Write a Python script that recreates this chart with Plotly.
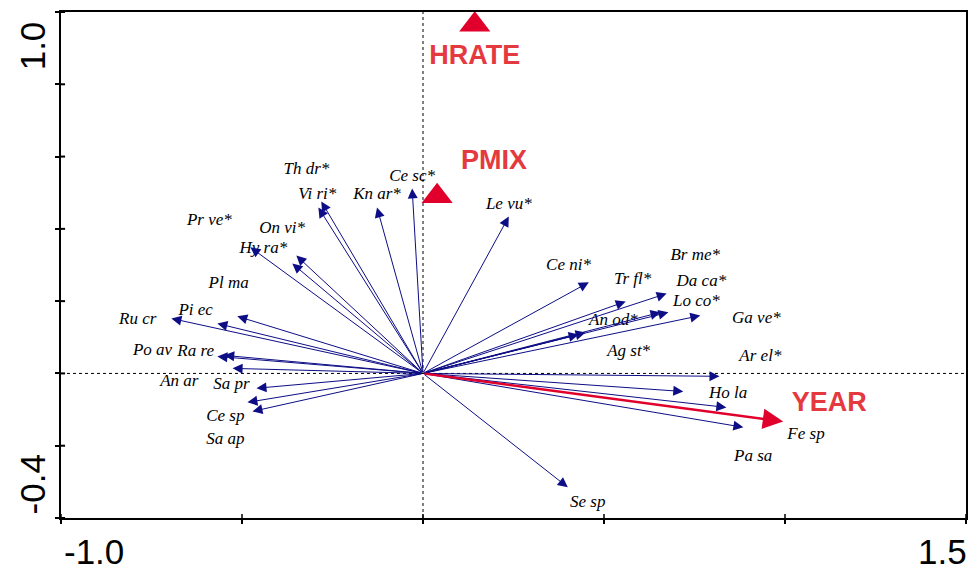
import plotly.graph_objects as go

# ---- data ----
species = ["Ru cr", "Pi ec", "Pl ma", "Po av", "Ra re", "An ar", "Sa pr", "Ce sp", "Sa ap",
           "Pr ve*", "Hy ra*", "On vi*", "Th dr*", "Vi ri*", "Kn ar*", "Ce sc*", "Le vu*",
           "Ce ni*", "Tr fl*", "Br me*", "Da ca*", "Lo co*", "Ga ve*", "An od*", "Ag st*",
           "Ar el*", "Ho la", "Pa sa", "Fe sp", "Se sp"]
# species arrow tips (axis 1, axis 2)
arrow_x = [-0.695, -0.568, -0.513, -0.568, -0.549, -0.526, -0.460, -0.485, -0.471,
           -0.477, -0.361, -0.350, -0.281, -0.289, -0.127, -0.030, 0.237,
           0.458, 0.560, 0.673, 0.678, 0.656, 0.766, 0.449, 0.430,
           0.819, 0.719, 0.838, 0.885, 0.400]
arrow_y = [0.152, 0.138, 0.158, 0.047, 0.050, 0.014, -0.041, -0.080, -0.105,
           0.349, 0.304, 0.326, 0.476, 0.459, 0.459, 0.512, 0.434,
           0.252, 0.199, 0.221, 0.169, 0.169, 0.160, 0.113, 0.108,
           -0.008, -0.050, -0.094, -0.149, -0.315]
# species label locations
label_x = [-0.788, -0.628, -0.537, -0.747, -0.628, -0.673, -0.529, -0.546, -0.546,
           -0.590, -0.441, -0.389, -0.322, -0.292, -0.127, -0.030, 0.237,
           0.402, 0.579, 0.752, 0.769, 0.755, 0.921, 0.526, 0.568,
           0.932, 0.843, 0.912, 1.058, 0.455]
label_y = [0.149, 0.174, 0.249, 0.064, 0.061, -0.022, -0.030, -0.119, -0.183,
           0.423, 0.346, 0.401, 0.564, 0.495, 0.495, 0.545, 0.467,
           0.299, 0.260, 0.326, 0.253, 0.198, 0.152, 0.147, 0.061,
           0.047, -0.055, -0.230, -0.169, -0.357]

# environmental variables
nominal_names = ["HRATE", "PMIX"]
nominal_x = [0.143, 0.039]
nominal_y = [0.965, 0.490]
nominal_label_x = [0.143, 0.196]
nominal_label_y = [0.874, 0.584]

year_x, year_y = 0.995, -0.133
year_label_x, year_label_y = 1.122, -0.086

x_range = [-1.0, 1.5]
y_range = [-0.4, 1.0]
x_ticks = [-1.0, -0.5, 0.0, 0.5, 1.0, 1.5]
y_ticks = [-0.4, -0.2, 0.0, 0.2, 0.4, 0.6, 0.8, 1.0]

NAVY = "#0d0d86"
RED_MARK = "#e0002b"
RED_TEXT = "#e4393e"

fig = go.Figure()

# zero lines (dotted)
fig.add_shape(type="line", x0=x_range[0], x1=x_range[1], y0=0, y1=0,
              line=dict(color="black", width=1, dash="dot"), layer="below")
fig.add_shape(type="line", x0=0, x1=0, y0=y_range[0], y1=y_range[1],
              line=dict(color="black", width=1, dash="dot"), layer="below")

annotations = []
for ax_, ay_ in zip(arrow_x, arrow_y):
    annotations.append(dict(x=ax_, y=ay_, ax=0, ay=0, xref="x", yref="y", axref="x", ayref="y",
                            text="", showarrow=True, arrowhead=2, arrowsize=2.0,
                            arrowwidth=1, arrowcolor=NAVY, standoff=0))
annotations.append(dict(x=year_x, y=year_y, ax=0, ay=0, xref="x", yref="y", axref="x", ayref="y",
                        text="", showarrow=True, arrowhead=2, arrowsize=1.7,
                        arrowwidth=2.4, arrowcolor=RED_MARK, standoff=0))

# species labels
fig.add_trace(go.Scatter(x=label_x, y=label_y, mode="text", text=species,
                         texttemplate="<i>%{text}</i>",
                         textfont=dict(family="Liberation Serif, Times New Roman, serif", size=17, color="black"),
                         hoverinfo="skip", showlegend=False))

# nominal (triangles)
fig.add_trace(go.Scatter(x=nominal_x, y=nominal_y, mode="markers",
                         marker=dict(symbol="triangle-up", size=27, color=RED_MARK, line=dict(width=0)),
                         hoverinfo="skip", showlegend=False))
fig.add_trace(go.Scatter(x=nominal_label_x + [year_label_x], y=nominal_label_y + [year_label_y],
                         mode="text", text=nominal_names + ["YEAR"],
                         texttemplate="<b>%{text}</b>",
                         textfont=dict(family="Liberation Sans, Arial, sans-serif", size=27, color=RED_TEXT),
                         hoverinfo="skip", showlegend=False))

# inner halves of tick marks
for yv in y_ticks:
    fig.add_shape(type="line", xref="x domain", yref="y", x0=0, x1=0.0045, y0=yv, y1=yv,
                  line=dict(color="black", width=2))
for xv in x_ticks:
    fig.add_shape(type="line", xref="x", yref="y domain", x0=xv, x1=xv, y0=0, y1=0.008,
                  line=dict(color="black", width=1.5))

tick_font = dict(family="Liberation Sans, Arial, sans-serif", size=35, color="black")
annotations += [
    dict(text="1.0", xref="paper", yref="y", x=0, y=0.905, xshift=-29, textangle=-90,
         showarrow=False, font=tick_font, xanchor="center", yanchor="middle"),
    dict(text="-0.4", xref="paper", yref="y", x=0, y=-0.307, xshift=-29, textangle=-90,
         showarrow=False, font=tick_font, xanchor="center", yanchor="middle"),
    dict(text="-1.0", xref="x", yref="paper", x=-0.91, y=0, yshift=-33,
         showarrow=False, font=tick_font, xanchor="center", yanchor="middle"),
    dict(text="1.5", xref="x", yref="paper", x=1.436, y=0, yshift=-33,
         showarrow=False, font=tick_font, xanchor="center", yanchor="middle"),
]

fig.update_layout(
    width=975, height=571,
    margin=dict(l=61, r=7, t=12, b=53),
    paper_bgcolor="white", plot_bgcolor="white",
    annotations=annotations,
    xaxis=dict(range=x_range, tickvals=x_ticks, showticklabels=False, ticks="outside",
               ticklen=4, tickwidth=1.5, tickcolor="black", showgrid=False, zeroline=False,
               showline=True, linecolor="black", linewidth=2, mirror=True, fixedrange=True),
    yaxis=dict(range=y_range, tickvals=y_ticks, showticklabels=False, ticks="outside",
               ticklen=4, tickwidth=2, tickcolor="black", showgrid=False, zeroline=False,
               showline=True, linecolor="black", linewidth=2, mirror=True, fixedrange=True),
)

fig.write_html("out.html", config={"displayModeBar": False},
               post_script="document.body.style.margin='0';document.body.style.overflow='hidden';")
